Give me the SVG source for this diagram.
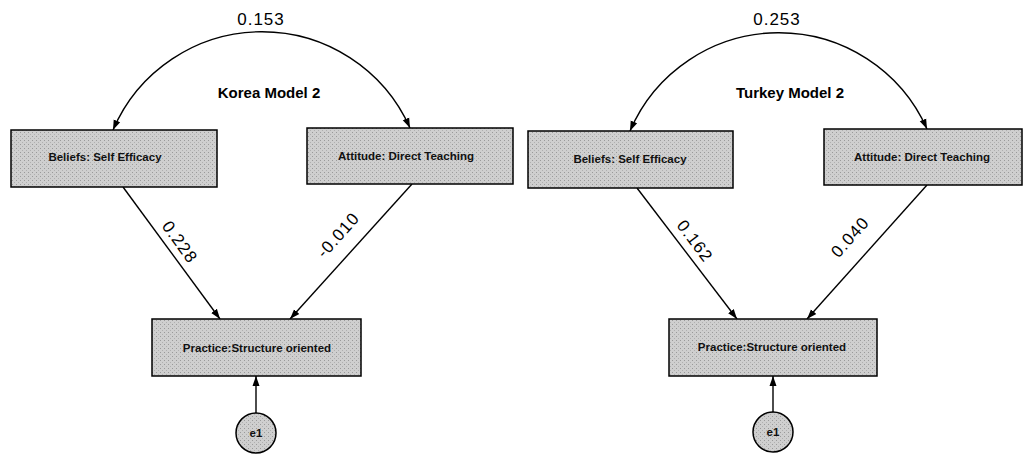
<svg xmlns="http://www.w3.org/2000/svg" width="1025" height="454" viewBox="0 0 1025 454">
<defs>
<marker id="ah" viewBox="0 0 10 10" refX="10" refY="5" markerWidth="10" markerHeight="10" markerUnits="userSpaceOnUse" orient="auto-start-reverse">
<path d="M0,1.5 L10,5 L0,8.5 Z" fill="#000"/>
</marker>
<pattern id="stip" width="4" height="4" patternUnits="userSpaceOnUse">
<rect width="4" height="4" fill="#cfcfcf"/>
<rect x="0" y="0" width="1" height="1" fill="#9a9a9a"/>
<rect x="2" y="2" width="1" height="1" fill="#b0b0b0"/>
</pattern>
</defs>
<style>
.box{fill:url(#stip);stroke:#000;stroke-width:1.5}
.lbl{font-family:"Liberation Sans",Arial,sans-serif;font-size:11.5px;font-weight:bold;fill:#111;text-anchor:middle}
.num{font-family:"Liberation Sans",Arial,sans-serif;font-size:17px;letter-spacing:1px;fill:#000;text-anchor:middle}
.ttl{font-family:"Liberation Sans",Arial,sans-serif;font-size:15px;font-weight:bold;fill:#000;text-anchor:middle}
.con{fill:none;stroke:#000;stroke-width:1.4;marker-end:url(#ah)}
</style>
<rect width="1025" height="454" fill="#fff"/>
<g id="connectors">
<path class="con" d="M113,130 A162,162 0 0 1 410,128" style="marker-start:url(#ah)"/>
<line class="con" x1="123" y1="187" x2="220" y2="319"/>
<line class="con" x1="412" y1="184" x2="290" y2="319"/>
<line class="con" x1="256" y1="413" x2="256" y2="376"/>
<path class="con" d="M630,131 A162,162 0 0 1 927,129" style="marker-start:url(#ah)"/>
<line class="con" x1="637" y1="188" x2="737" y2="319"/>
<line class="con" x1="927" y1="185" x2="807" y2="319"/>
<line class="con" x1="773" y1="412" x2="773" y2="376"/>
</g>
<g id="labels">
<text class="num" x="261" y="25">0.153</text>
<text class="ttl" x="269" y="98">Korea Model 2</text>
<text class="num" transform="translate(180,242) rotate(54)" dy=".35em">0.228</text>
<text class="num" transform="translate(338,235) rotate(-48)" dy=".35em">-0.010</text>
<text class="num" x="777" y="25">0.253</text>
<text class="ttl" x="790" y="98">Turkey Model 2</text>
<text class="num" transform="translate(695,241) rotate(53)" dy=".35em">0.162</text>
<text class="num" transform="translate(850,237) rotate(-48)" dy=".35em">0.040</text>
</g>
<g id="korea-beliefs">
<rect class="box" x="11" y="130" width="206" height="57"/>
<text class="lbl" x="105" y="161">Beliefs: Self Efficacy</text>
</g>
<g id="korea-attitude">
<rect class="box" x="307" y="128" width="206" height="56"/>
<text class="lbl" x="406" y="160">Attitude: Direct Teaching</text>
</g>
<g id="korea-practice">
<rect class="box" x="152" y="319" width="209" height="57"/>
<text class="lbl" x="257" y="352">Practice:Structure oriented</text>
</g>
<g id="korea-e1">
<circle class="box" cx="256" cy="433" r="20"/>
<text class="lbl" x="256" y="437">e1</text>
</g>
<g id="turkey-beliefs">
<rect class="box" x="528" y="131" width="205" height="57"/>
<text class="lbl" x="630" y="163">Beliefs: Self Efficacy</text>
</g>
<g id="turkey-attitude">
<rect class="box" x="824" y="129" width="198" height="56"/>
<text class="lbl" x="922" y="161">Attitude: Direct Teaching</text>
</g>
<g id="turkey-practice">
<rect class="box" x="669" y="319" width="208" height="57"/>
<text class="lbl" x="772" y="351">Practice:Structure oriented</text>
</g>
<g id="turkey-e1">
<circle class="box" cx="773" cy="432" r="20"/>
<text class="lbl" x="773" y="436">e1</text>
</g>
</svg>
